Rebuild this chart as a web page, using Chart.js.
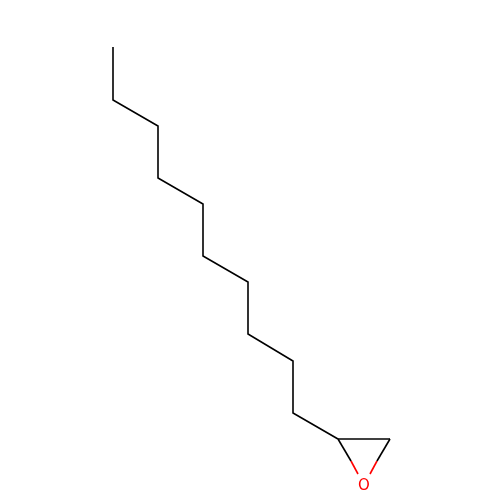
<!DOCTYPE html><html><head><script src="https://cdn.jsdelivr.net/npm/chart.js"></script>
<style>html,body{margin:0;background:#fff}#c{width:500px;height:500px}</style></head><body>
<div id="c"><canvas id="cv" width="500" height="500"></canvas></div>
<script>
const chainX=[113,113,158,158,203,203,248,248,293,293,338];
const chainY=[47,100,126,178,204,256,282,334,361,413,439];
const ringBlackX=[[338,390],[338,351],[390,377]];
const ringBlackY=[[439,439],[439,461],[439,461]];
const ringRedX=[[351,358],[377,370]];
const ringRedY=[[461,474],[461,474]];
const atomLabels=[{t:'O',x:364,y:486}];
const mk=(xs,ys,c)=>({data:xs.map((x,i)=>({x,y:ys[i]})),borderColor:c,borderWidth:1.6,pointRadius:0,showLine:true,fill:false,tension:0});
const ds=[mk(chainX,chainY,'#000')];
ringBlackX.forEach((xs,i)=>ds.push(mk(xs,ringBlackY[i],'#000')));
ringRedX.forEach((xs,i)=>ds.push(mk(xs,ringRedY[i],'#ff0000')));
const labelPlugin={id:'lbl',afterDatasetsDraw(ch){const c=ch.ctx;c.save();c.fillStyle='#ff0000';c.font='15px "DejaVu Sans"';c.textAlign='center';c.textBaseline='middle';
atomLabels.forEach(a=>c.fillText(a.t,ch.scales.x.getPixelForValue(a.x),ch.scales.y.getPixelForValue(a.y)));c.restore();}};
new Chart(document.getElementById('cv'),{type:'scatter',data:{datasets:ds},plugins:[labelPlugin],
options:{responsive:false,animation:false,layout:{padding:0},plugins:{legend:{display:false},tooltip:{enabled:false}},
scales:{x:{type:'linear',min:0,max:500,display:false},y:{type:'linear',min:0,max:500,reverse:true,display:false}}}});
</script></body></html>
